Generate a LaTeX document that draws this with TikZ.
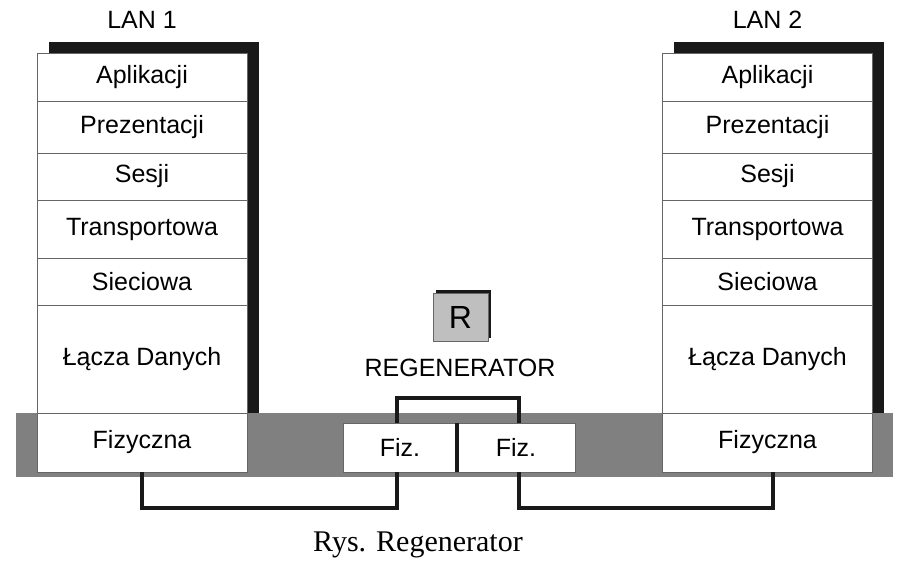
\documentclass[tikz,border=0pt]{standalone}
\usepackage{fontspec}
\setmainfont{Liberation Sans}
\newfontfamily\podpisfont{Liberation Serif}

\tikzset{warstwa/.style={draw=black!60,line width=0.8pt,fill=white,inner sep=0pt,minimum width=210pt,font=\fontsize{25}{30}\selectfont},
         kabel/.style={line width=4pt,black!90},
         cien/.style={black!90}}

\begin{document}
\begin{tikzpicture}[x=1pt,y=-1pt]
    \useasboundingbox (0,0) rectangle (909,568);
    % cienie stosow i pasmo fizyczne
    \fill[cien] (49,42) rectangle (259,413);
    \fill[cien] (674,42) rectangle (884,413);
    \fill[black!50] (16,413) rectangle (893,477);
    % warstwy OSI
    \foreach \lan/\xs in {1/142,2/767.5} {
        \node[font=\fontsize{25}{30}\selectfont] (lan\lan) at (\xs,20) {LAN \lan};
        \foreach \nazwa/\tekst/\gora/\dol in {apl/Aplikacji/53/101,pre/Prezentacji/101/153,ses/Sesji/153/200,tra/Transportowa/200/258,sie/Sieciowa/258/305,lac/Łącza Danych/305/413,fiz/Fizyczna/413/472}
            \node[warstwa,minimum height={\dol-\gora}] (\nazwa\lan) at (\xs,{(\gora+\dol)/2}) {\tekst};
    }
    % regenerator
    \fill[cien] (436,290) rectangle (491,338);
    \node[warstwa,fill=black!25,minimum width=55pt,minimum height=48pt,font=\fontsize{32}{36}\selectfont] (r) at (460.5,317) {R};
    \node[font=\fontsize{25}{30}\selectfont] (regen) at (460,368) {REGENERATOR};
    \node[warstwa,minimum width=114pt,minimum height=49pt] (fizL) at (400,447.5) {Fiz.};
    \node[warstwa,minimum width=118pt,minimum height=49pt] (fizR) at (516,447.5) {Fiz.};
    \draw[kabel] (fizL.north east) -- (fizL.south east);
    \draw[kabel] ([xshift=-3pt]fizL.north) -- ++(0,-25) -| ([xshift=3pt]fizR.north);
    % polaczenia
    \draw[kabel] (fiz1.south) -- ++(0,36) -| ([xshift=-3pt]fizL.south);
    \draw[kabel] ([xshift=3pt]fizR.south) -- ++(0,36) -| ([xshift=5pt]fiz2.south);
    \node[font=\podpisfont\fontsize{30}{36}\selectfont] (podpis) at (418,545) {Rys. Regenerator};
\end{tikzpicture}
\end{document}
